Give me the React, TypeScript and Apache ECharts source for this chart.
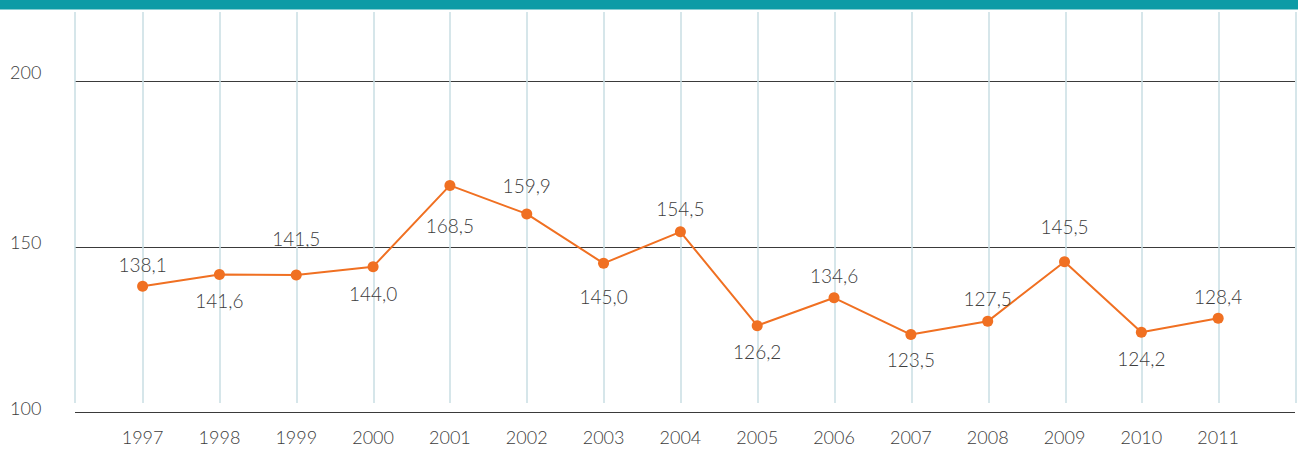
import { useEffect, useRef } from 'react';
import * as echarts from 'echarts';

// ---- data ----
const years = [1997, 1998, 1999, 2000, 2001, 2002, 2003, 2004, 2005, 2006, 2007, 2008, 2009, 2010, 2011];
const values = [138.1, 141.6, 141.5, 144.0, 168.5, 159.9, 145.0, 154.5, 126.2, 134.6, 123.5, 127.5, 145.5, 124.2, 128.4];
const yTickValues = [100, 150, 200];

// ---- label placement (style only): vertical offset of each value label from its point, px ----
const labelOffsets = [-22, 26, -36, 27, 40, -28, 33, -23, 26, -22, 25, -23, -35, 26, -22];

const FONT = "Lato, 'DejaVu Sans Condensed', sans-serif";
const WEIGHT = 300;
const TEXT = '#3c3c3c';
const fmt = (v: number) => v.toFixed(1).replace('.', ',');

const X_MIN = 1996.12;
const X_MAX = 2012;

export default function App() {
  const ref = useRef<HTMLDivElement>(null);
  useEffect(() => {
    if (!ref.current) return;
    const chart = echarts.init(ref.current, undefined, { renderer: 'svg' });
    chart.setOption({
      animation: false,
      backgroundColor: '#ffffff',
      graphic: [
        { type: 'rect', shape: { x: 0, y: 0, width: 1298, height: 9.5 }, style: { fill: '#0c9ba6' }, z: 100 },
      ],
      grid: [
        { left: 75, right: 2, top: 12, bottom: 46, containLabel: false },
        { left: 75, right: 2, top: 81, bottom: 36.5, containLabel: false },
      ],
      xAxis: [
        {
          gridIndex: 0, type: 'value', min: X_MIN, max: X_MAX, splitNumber: 16,
          axisLine: { show: false }, axisTick: { show: false }, axisLabel: { show: false },
          splitLine: { show: true, lineStyle: { color: '#c8dee3', width: 1.5 } },
        },
        {
          gridIndex: 1, type: 'value', min: X_MIN, max: X_MAX, splitNumber: 16,
          axisLine: { show: false }, axisTick: { show: false },
          splitLine: { show: false },
          axisLabel: {
            show: true, margin: 15, color: TEXT, fontFamily: FONT, fontWeight: WEIGHT, fontSize: 18,
            showMinLabel: false,
            formatter: (v: number) => (years.indexOf(v) >= 0 ? String(v) : ''),
          },
        },
      ],
      yAxis: [
        { gridIndex: 0, type: 'value', min: 0, max: 1, show: false, splitLine: { show: false } },
        {
          gridIndex: 1, type: 'value', min: yTickValues[0], max: yTickValues[yTickValues.length - 1], interval: 50,
          axisLine: { show: false }, axisTick: { show: false },
          splitLine: { show: true, lineStyle: { color: '#3a3a3a', width: 1 } },
          axisLabel: {
            margin: 65, align: 'left', verticalAlign: 'bottom', color: TEXT, fontFamily: FONT, fontWeight: WEIGHT, fontSize: 18,
            formatter: (v: number) => (v === 200 ? `{t|${v}}` : `{n|${v}}`),
            rich: {
              t: { color: TEXT, fontFamily: FONT, fontWeight: WEIGHT, fontSize: 18, lineHeight: 18 },
              n: { color: TEXT, fontFamily: FONT, fontWeight: WEIGHT, fontSize: 18, lineHeight: 10 },
            },
          },
        },
      ],
      series: [
        {
          type: 'line',
          xAxisIndex: 1, yAxisIndex: 1,
          data: years.map((y, i) => ({ value: [y, values[i]], label: { offset: [0, labelOffsets[i]] } })),
          symbol: 'circle', symbolSize: 11,
          lineStyle: { color: '#f07022', width: 2 },
          itemStyle: { color: '#f07022' },
          label: {
            show: true, position: 'inside', color: TEXT, fontFamily: FONT, fontWeight: WEIGHT, fontSize: 19,
            textBorderWidth: 0,
            formatter: (p: any) => fmt(p.value[1]),
          },
          emphasis: { disabled: true },
        },
      ],
    });
    return () => chart.dispose();
  }, []);
  return <div ref={ref} style={{ position: 'absolute', left: 0, top: 0, width: 1298, height: 449 }} />;
}
